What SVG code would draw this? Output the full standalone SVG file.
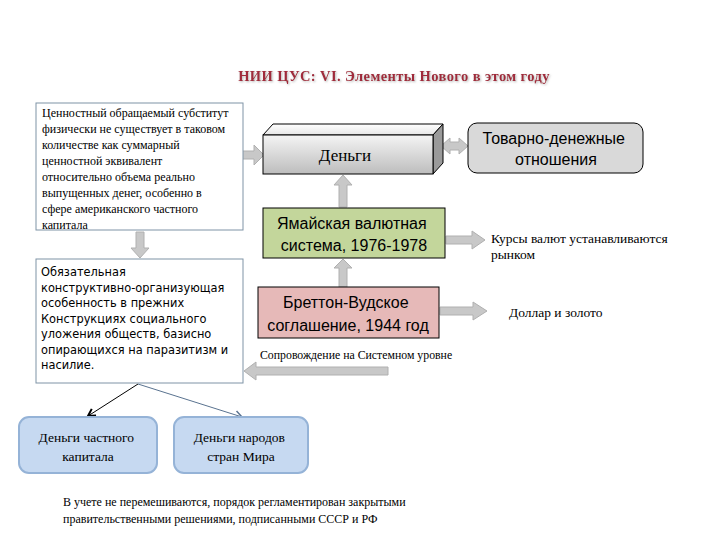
<svg xmlns="http://www.w3.org/2000/svg" width="720" height="540" viewBox="0 0 720 540">
<defs>
<style>
.serif{font-family:"Liberation Serif","Times New Roman",serif;fill:#000}
.sans{font-family:"Liberation Sans",Arial,sans-serif;fill:#000}
.mono{font-family:"DejaVu Sans",sans-serif;fill:#000}
.blk{fill:#c8c8c8;stroke:#b0b0b0;stroke-width:1}
</style>
<linearGradient id="gFront" x1="0" y1="0" x2="0" y2="1">
<stop offset="0" stop-color="#f4f4f4"/><stop offset="1" stop-color="#bdbdbd"/>
</linearGradient>
<linearGradient id="gTop" x1="0" y1="0" x2="0" y2="1">
<stop offset="0" stop-color="#ffffff"/><stop offset="1" stop-color="#e6e6e6"/>
</linearGradient>
<filter id="sh" x="-5%" y="-20%" width="110%" height="140%">
<feDropShadow dx="1" dy="1" stdDeviation="0.8" flood-color="#999" flood-opacity="0.7"/>
</filter>
<marker id="mBlk" markerWidth="10" markerHeight="10" refX="8" refY="5" orient="auto" markerUnits="userSpaceOnUse">
<path d="M1,1 L8,5 L1,9" fill="none" stroke="#000" stroke-width="2"/>
</marker>
<marker id="mBlue" markerWidth="10" markerHeight="10" refX="8" refY="5" orient="auto" markerUnits="userSpaceOnUse">
<path d="M1,1 L8,5 L1,9" fill="none" stroke="#5a7390" stroke-width="1.5"/>
</marker>
</defs>
<rect width="720" height="540" fill="#fff"/>

<g id="title">
<text x="394" y="81" text-anchor="middle" font-family="Liberation Serif,serif" font-weight="bold" font-size="14.5" fill="#a02a3a" filter="url(#sh)" letter-spacing="0.4">НИИ ЦУС: VI. Элементы Нового в этом году</text>
</g>

<g id="connectors">
<polygon class="blk" points="136,232 144,232 144,248 149,248 140,258 131,248 136,248"/>
<polygon class="blk" points="242,151 254,151 254,145 264,155 254,165 254,159 242,159"/>
<polygon class="blk" points="441,146 450,138 450,142 459,142 459,138 468,146 459,154 459,150 450,150 450,154"/>
<polygon class="blk" points="339,207 347,207 347,185 352,185 343,175 334,185 339,185"/>
<polygon class="blk" points="339,287 347,287 347,268 352,268 343,259 334,268 339,268"/>
<polygon class="blk" points="446,236 472,236 472,231 485,240 472,249 472,244 446,244"/>
<polygon class="blk" points="440,307 473,307 473,302 487,311 473,320 473,315 440,315"/>
<polygon class="blk" points="388,367 256,367 256,362 244,371 256,380 256,375 388,375"/>
<line x1="138" y1="384" x2="88" y2="416" stroke="#000" stroke-width="1" marker-end="url(#mBlk)"/>
<line x1="138" y1="384" x2="242" y2="417" stroke="#5a7390" stroke-width="1" marker-end="url(#mBlue)"/>
</g>

<g id="n-substitute">
<rect x="36" y="103" width="207" height="127" fill="#fff" stroke="#7f93a6" stroke-width="1"/>
<text class="serif" font-size="12">
<tspan x="42" y="117">Ценностный обращаемый субститут</tspan>
<tspan x="42" y="133">физически не существует в таковом</tspan>
<tspan x="42" y="149">количестве как суммарный</tspan>
<tspan x="42" y="165">ценностной эквивалент</tspan>
<tspan x="42" y="181">относительно объема реально</tspan>
<tspan x="42" y="197">выпущенных денег, особенно в</tspan>
<tspan x="42" y="213">сфере американского частного</tspan>
<tspan x="42" y="229">капитала</tspan>
</text>
</g>

<g id="n-feature">
<rect x="36" y="259" width="207" height="124" fill="#fff" stroke="#7f93a6" stroke-width="1"/>
<text class="mono" font-size="11.4">
<tspan x="41" y="276">Обязательная</tspan>
<tspan x="41" y="292">конструктивно-организующая</tspan>
<tspan x="41" y="307">особенность в прежних</tspan>
<tspan x="41" y="323">Конструкциях социального</tspan>
<tspan x="41" y="338">уложения обществ, базисно</tspan>
<tspan x="41" y="354">опирающихся на паразитизм и</tspan>
<tspan x="41" y="369">насилие.</tspan>
</text>
</g>

<g id="n-money">
<polygon points="263,135 273,124 443,124 433,135" fill="url(#gTop)" stroke="#000" stroke-width="1"/>
<polygon points="433,135 443,124 443,163 433,174" fill="#9a9a9a" stroke="#000" stroke-width="1"/>
<rect x="263" y="135" width="170" height="39" fill="url(#gFront)" stroke="#000" stroke-width="1"/>
<text class="serif" font-size="17" x="345" y="161" text-anchor="middle">Деньги</text>
</g>

<g id="n-commodity">
<rect x="468" y="123" width="175" height="50" rx="9" fill="#d9d9d9" stroke="#000" stroke-width="1"/>
<text class="sans" font-size="16" text-anchor="middle">
<tspan x="556" y="144">Товарно-денежные</tspan>
<tspan x="556" y="165">отношения</tspan>
</text>
</g>

<g id="n-jamaica">
<rect x="263" y="208" width="182" height="50" fill="#c3d69b" stroke="#000" stroke-width="1"/>
<text class="sans" font-size="16" text-anchor="middle">
<tspan x="354" y="229">Ямайская валютная</tspan>
<tspan x="354" y="251">система, 1976-1978</tspan>
</text>
</g>

<g id="n-bretton">
<rect x="258" y="287" width="181" height="51" fill="#e6b9b8" stroke="#000" stroke-width="1"/>
<text class="sans" font-size="16" text-anchor="middle">
<tspan x="348" y="308">Бреттон-Вудское</tspan>
<tspan x="348" y="331">соглашение, 1944 год</tspan>
</text>
</g>

<g id="n-rates">
<text class="serif" font-size="13.5">
<tspan x="491" y="243">Курсы валют устанавливаются</tspan>
<tspan x="491" y="259">рынком</tspan>
</text>
</g>

<g id="n-gold">
<text class="serif" font-size="13.5" x="509" y="317">Доллар и золото</text>
</g>

<g id="n-support">
<text class="serif" font-size="11.8" x="260" y="359">Сопровождение на Системном уровне</text>
</g>

<g id="n-private">
<rect x="19" y="417" width="138" height="56" rx="10" fill="#c6d9f1" stroke="#95b3d7" stroke-width="2"/>
<text class="serif" font-size="13.5" text-anchor="middle">
<tspan x="88" y="442">Деньги частного</tspan>
<tspan x="88" y="461">капитала</tspan>
</text>
</g>

<g id="n-nations">
<rect x="174" y="417" width="134" height="56" rx="10" fill="#c6d9f1" stroke="#95b3d7" stroke-width="2"/>
<text class="serif" font-size="13.5" text-anchor="middle">
<tspan x="241" y="442">Деньги народов</tspan>
<tspan x="241" y="461">стран Мира</tspan>
</text>
</g>

<g id="n-note">
<text class="serif" font-size="12">
<tspan x="63" y="506">В учете не перемешиваются, порядок регламентирован закрытыми</tspan>
<tspan x="63" y="523">правительственными решениями, подписанными СССР и РФ</tspan>
</text>
</g>
</svg>
